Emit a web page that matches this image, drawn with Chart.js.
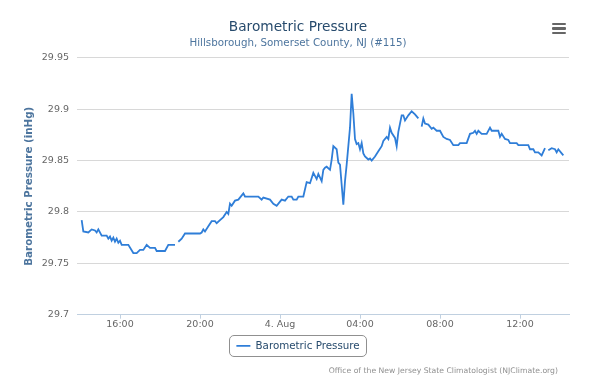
<!DOCTYPE html>
<html><head><meta charset="utf-8">
<script src="https://cdn.jsdelivr.net/npm/chart.js@4"></script>
<style>
html,body{margin:0;padding:0;background:#fff;}
#wrap{position:relative;width:596px;height:381px;}
canvas{display:block}
#credits{position:absolute;right:38px;top:366px;font:7.7px "DejaVu Sans";color:#909090;white-space:nowrap;line-height:10px}
#menu{position:absolute;left:552px;top:22.5px;width:14px;}
#menu span{display:block;height:2.5px;background:#666;margin-bottom:2.2px;border-radius:1px}
</style></head><body>
<div id="wrap"><canvas id="c" width="596" height="381"></canvas>
<div id="menu"><span></span><span></span><span></span></div>
<div id="credits">Office of the New Jersey State Climatologist (NJClimate.org)</div></div>
<script>
// minutes since 3 Aug 00:00
const times = [845,850,865,875,885,890,895,905,920,925,930,935,940,945,950,955,960,965,985,1000,1010,1020,1030,1040,1050,1065,1070,1095,1105,1125,1130,1135,1145,1155,1200,1205,1210,1215,1225,1235,1245,1250,1260,1270,1280,1285,1290,1295,1305,1315,1330,1335,1375,1385,1390,1410,1420,1430,1440,1445,1455,1465,1475,1480,1490,1495,1510,1520,1530,1540,1550,1555,1565,1570,1575,1580,1590,1595,1600,1610,1615,1620,1630,1635,1640,1650,1655,1660,1665,1670,1675,1680,1685,1690,1695,1705,1710,1715,1725,1735,1745,1750,1760,1765,1770,1775,1785,1790,1795,1805,1810,1815,1825,1835,1845,1855,1860,1865,1870,1875,1885,1895,1900,1910,1920,1930,1940,1950,1960,1975,1980,2000,2010,2020,2025,2030,2035,2045,2060,2070,2075,2095,2100,2105,2115,2125,2130,2150,2155,2185,2190,2200,2205,2215,2225,2235,2240,2245,2250,2255,2265,2270,2275,2285,2290];
const pressure = [29.792,29.781,29.780,29.783,29.782,29.780,29.783,29.777,29.777,29.774,29.776,29.772,29.775,29.771,29.774,29.770,29.772,29.768,29.768,29.760,29.760,29.763,29.763,29.768,29.765,29.765,29.762,29.762,29.768,29.768,null,29.771,29.774,29.779,29.779,29.780,29.783,29.781,29.786,29.791,29.791,29.789,29.792,29.795,29.800,29.798,29.808,29.806,29.811,29.812,29.818,29.815,29.815,29.812,29.814,29.812,29.808,29.806,29.810,29.812,29.811,29.815,29.815,29.812,29.812,29.815,29.815,29.829,29.828,29.838,29.832,29.837,29.830,29.841,29.843,29.844,29.841,29.851,29.864,29.861,29.848,29.846,29.807,29.830,29.846,29.882,29.915,29.896,29.871,29.866,29.867,29.861,29.867,29.857,29.854,29.851,29.852,29.850,29.854,29.859,29.864,29.869,29.873,29.871,29.882,29.877,29.872,29.864,29.878,29.894,29.894,29.889,29.894,29.898,29.895,29.891,null,29.883,29.891,29.886,29.885,29.881,29.882,29.879,29.879,29.873,29.871,29.870,29.865,29.865,29.867,29.867,29.876,29.877,29.879,29.876,29.879,29.876,29.876,29.882,29.879,29.879,29.873,29.876,29.871,29.870,29.867,29.867,29.865,29.865,29.861,29.861,29.858,29.858,29.855,29.862,null,29.860,29.861,29.862,29.861,29.858,29.861,29.857,29.855];
const xTickValues = [960,1200,1440,1680,1920,2160];
const xTickLabels = ['16:00','20:00','4. Aug','04:00','08:00','12:00'];
const yTickValues = [29.7,29.75,29.8,29.85,29.9,29.95];
const yTickLabels = ['29.7','29.75','29.8','29.85','29.9','29.95'];

const FONT = '"DejaVu Sans", sans-serif';

const legendBorder = {
  id:'legendBorder',
  afterDraw(chart){
    const lg = chart.legend;
    if(!lg || !lg.legendHitBoxes || !lg.legendHitBoxes.length) return;
    const hb = lg.legendHitBoxes[0];
    const ctx = chart.ctx;
    const x = Math.round(hb.left - 7) + 0.5, y = Math.round(hb.top + hb.height/2 - 10.5) + 0.5;
    const w = Math.round(hb.width + 14), h = 21, r = 4.5;
    ctx.save();
    ctx.strokeStyle = '#909090';
    ctx.lineWidth = 1;
    ctx.beginPath();
    ctx.roundRect(x, y, w, h, r);
    ctx.stroke();
    ctx.restore();
  }
};

new Chart(document.getElementById('c'), {
  type:'line',
  data:{
    datasets:[{
      label:'Barometric Pressure',
      data: times.map((t,i)=>({x:t, y:pressure[i]})),
      borderColor:'#2f7ed8',
      backgroundColor:'#2f7ed8',
      borderWidth:1.8,
      pointRadius:0,
      pointHoverRadius:0,
      tension:0,
      spanGaps:false,
      fill:false
    }]
  },
  options:{
    responsive:false,
    animation:false,
    devicePixelRatio:1,
    layout:{padding:{left:0,right:0,top:0,bottom:20}},
    plugins:{
      tooltip:{enabled:false},
      title:{display:true,text:'Barometric Pressure',color:'#274b6d',font:{family:FONT,size:13.7,weight:'normal'},padding:{top:19,bottom:1}},
      subtitle:{display:true,text:'Hillsborough, Somerset County, NJ (#115)',color:'#4d759e',font:{family:FONT,size:10.3,weight:'normal'},padding:{top:0.5,bottom:8.5}},
      legend:{
        position:'bottom',
        labels:{
          usePointStyle:true,
          pointStyle:'line',
          pointStyleWidth:14,
          boxHeight:10,
          color:'#274b6d',
          font:{family:FONT,size:10.3},
          padding:6
        }
      }
    },
    scales:{
      x:{
        type:'linear',
        min:831, max:2307,
        afterFit(s){ s.height = 20; },
        afterBuildTicks(s){ s.ticks = xTickValues.map(v=>({value:v})); },
        ticks:{
          autoSkip:false, maxRotation:0,
          color:'#666', font:{family:FONT,size:9.5}, padding:0,
          callback(v){ const i = xTickValues.indexOf(v); return i>=0 ? xTickLabels[i] : ''; }
        },
        grid:{drawOnChartArea:false, drawTicks:true, tickLength:4, color:'#C0D0E0', lineWidth:1},
        border:{display:true, color:'#C0D0E0', width:1}
      },
      y:{
        min:29.7, max:29.95,
        afterFit(s){ s.width = 77; },
        afterBuildTicks(s){ s.ticks = yTickValues.map(v=>({value:v})); },
        ticks:{
          color:'#666', font:{family:FONT,size:9.5}, padding:8,
          callback(v){ const i = yTickValues.findIndex(t=>Math.abs(t-v)<1e-6); return i>=0 ? yTickLabels[i] : ''; }
        },
        grid:{color:'#D8D8D8', lineWidth:1, drawTicks:false},
        border:{display:false},
        title:{display:true,text:'Barometric Pressure (inHg)',color:'#4d759e',font:{family:FONT,size:10.3,weight:'bold'},padding:{top:23,bottom:0}}
      },
      yRight:{
        position:'right',
        display:true,
        afterFit(s){ s.width = 27; },
        ticks:{display:false},
        grid:{display:false, drawTicks:false},
        border:{display:false}
      }
    }
  },
  plugins:[legendBorder]
});
</script></body></html>
